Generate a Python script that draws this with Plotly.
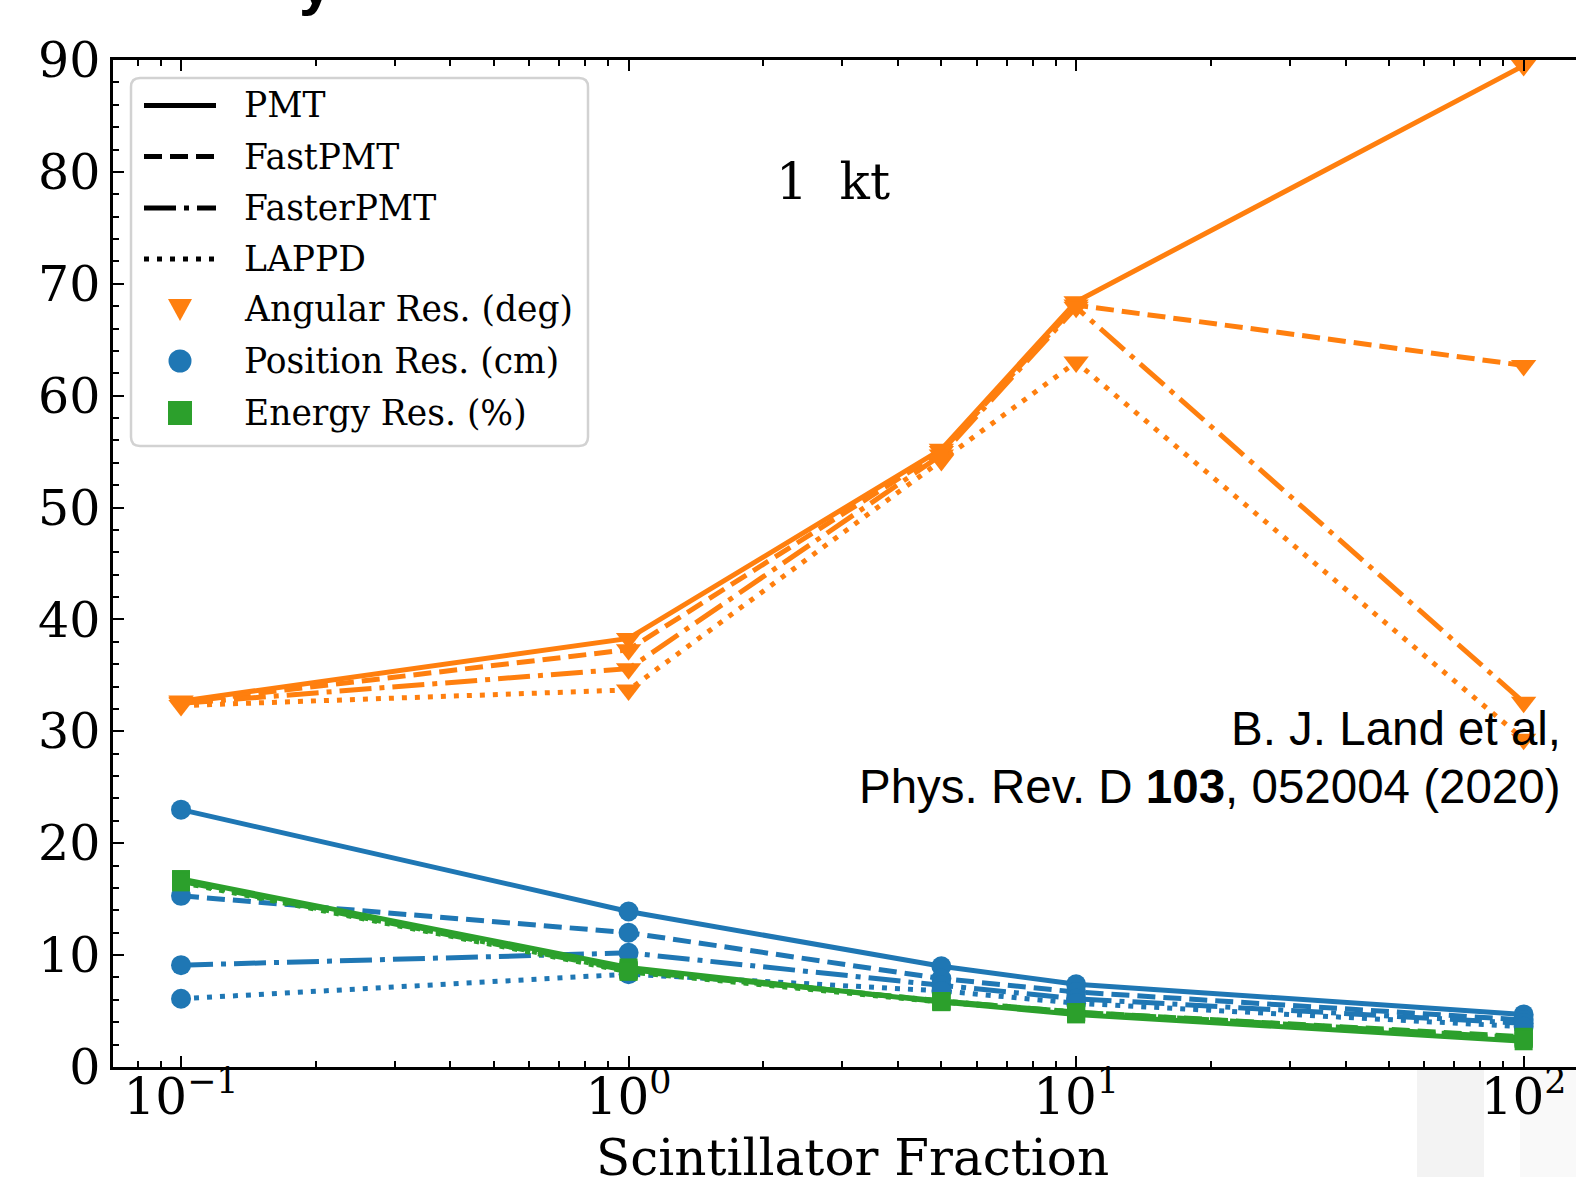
import plotly.graph_objects as go

# ---------------- data ----------------
frac = [0.1, 1, 5, 10, 100]
detectors = ["PMT", "FastPMT", "FasterPMT", "LAPPD"]

ang_pmt = [32.7, 38.3, 55.2, 68.4, 89.5]
ang_fast = [32.6, 37.3, 55.0, 68.1, 62.7]
ang_faster = [32.5, 35.6, 54.7, 67.9, 32.6]
ang_lappd = [32.3, 33.7, 54.2, 63.0, 29.3]

pos_pmt = [23.0, 13.9, 9.0, 7.4, 4.7]
pos_fast = [15.3, 12.0, 7.9, 6.7, 4.2]
pos_faster = [9.1, 10.2, 7.3, 6.1, 3.9]
pos_lappd = [6.1, 8.3, 6.8, 5.7, 3.6]

en_pmt = [16.8, 8.9, 5.8, 4.7, 2.3]
en_fast = [16.7, 8.7, 5.9, 4.9, 2.7]
en_faster = [16.6, 8.6, 5.9, 4.9, 2.6]
en_lappd = [16.5, 8.5, 5.8, 4.8, 2.5]

xtick_vals = [0.1, 1, 10, 100]
xtick_text = ["10<sup>\u22121</sup>", "10<sup>0</sup>", "10<sup>1</sup>", "10<sup>2</sup>"]
legend_labels = ["PMT", "FastPMT", "FasterPMT", "LAPPD",
                 "Angular Res. (deg)", "Position Res. (cm)", "Energy Res. (%)"]

# ---------------- style ----------------
W, H = 1576, 1177
L, T, B = 113, 60, 110
PW, PH = W - L, H - T - B
ORANGE, BLUE, GREEN = "#ff7f0e", "#1f77b4", "#2ca02c"
LW = 5
DASHES = {"PMT": "solid", "FastPMT": "18px,8px", "FasterPMT": "32px,8px,5px,8px", "LAPPD": "5px,8px"}
SERIF = "DejaVu Serif"
SANS = "Liberation Sans, Arial"


def px(X):
    return (X - L) / PW


def py(Y):
    return (T + PH - Y) / PH


fig = go.Figure()

groups = [
    ("Angular", ORANGE, "triangle-down", 22, [ang_pmt, ang_fast, ang_faster, ang_lappd]),
    ("Position", BLUE, "circle", 20, [pos_pmt, pos_fast, pos_faster, pos_lappd]),
    ("Energy", GREEN, "square", 18, [en_pmt, en_fast, en_faster, en_lappd]),
]
for gname, col, sym, msize, series in groups:
    for det, vals in zip(detectors, series):
        fig.add_trace(go.Scatter(
            x=frac, y=vals, mode="lines+markers", name=f"{gname} {det}",
            line=dict(color=col, width=LW, dash=DASHES[det]),
            marker=dict(symbol=sym, size=msize, color=col, line=dict(width=0)),
            showlegend=False, hoverinfo="skip"))

# minor tick values for log axis
minor_x = []
for dec in [0.01, 0.1, 1, 10, 100]:
    for k in range(2, 10):
        minor_x.append(dec * k)

fig.update_xaxes(
    type="log", range=[-1.152, 2.117], automargin=False,
    tickmode="array", tickvals=xtick_vals, ticktext=xtick_text,
    ticks="inside", ticklen=11, tickwidth=2, tickcolor="black",
    showline=True, linecolor="black", linewidth=2.5, mirror="allticks",
    showgrid=False, zeroline=False, ticklabelstandoff=-16,
    tickfont=dict(family=SERIF, size=50, color="black"),
    minor=dict(tickvals=minor_x, ticks="inside", ticklen=6, tickwidth=1.5, tickcolor="black", showgrid=False),
)
fig.update_yaxes(
    range=[0, 90], dtick=10, tick0=0, automargin=False,
    ticks="inside", ticklen=11, tickwidth=2, tickcolor="black",
    showline=True, linecolor="black", linewidth=2.5, mirror=False,
    showgrid=False, zeroline=False,
    tickfont=dict(family=SERIF, size=49, color="black"),
    minor=dict(dtick=2, ticks="inside", ticklen=6, tickwidth=1.5, tickcolor="black", showgrid=False),
)

shapes = []
# faint grey artefacts bottom right
shapes.append(dict(type="rect", xref="paper", yref="paper", x0=px(1417), x1=px(1484), y0=py(1068), y1=py(H),
                   fillcolor="#f3f3f3", line=dict(width=0), layer="below"))
shapes.append(dict(type="rect", xref="paper", yref="paper", x0=px(1520), x1=px(W), y0=py(1068), y1=py(H),
                   fillcolor="#f9f9f9", line=dict(width=0), layer="below"))

# legend frame (rounded)
bx0, bx1, by0, by1, r = 131, 588, 78, 446, 9
path = (f"M {px(bx0 + r)},{py(by0)} L {px(bx1 - r)},{py(by0)} Q {px(bx1)},{py(by0)} {px(bx1)},{py(by0 + r)} "
        f"L {px(bx1)},{py(by1 - r)} Q {px(bx1)},{py(by1)} {px(bx1 - r)},{py(by1)} "
        f"L {px(bx0 + r)},{py(by1)} Q {px(bx0)},{py(by1)} {px(bx0)},{py(by1 - r)} "
        f"L {px(bx0)},{py(by0 + r)} Q {px(bx0)},{py(by0)} {px(bx0 + r)},{py(by0)} Z")
shapes.append(dict(type="path", xref="paper", yref="paper", path=path,
                   fillcolor="rgba(255,255,255,0.8)", line=dict(color="#d2d2d2", width=2.5), layer="above"))

rows = [105.5, 156.5, 208, 259, 309, 361, 413]
for det, yy in zip(detectors, rows[:4]):
    shapes.append(dict(type="line", xref="paper", yref="paper", x0=px(144), x1=px(216), y0=py(yy), y1=py(yy),
                       line=dict(color="black", width=LW, dash=DASHES[det]), layer="above"))
mx = 180
# triangle-down
shapes.append(dict(type="path", xref="paper", yref="paper",
                   path=f"M {px(mx - 12)},{py(rows[4] - 10)} L {px(mx + 12)},{py(rows[4] - 10)} L {px(mx)},{py(rows[4] + 12)} Z",
                   fillcolor=ORANGE, line=dict(width=0), layer="above"))
shapes.append(dict(type="circle", xref="paper", yref="paper", x0=px(mx - 11.5), x1=px(mx + 11.5),
                   y0=py(rows[5] - 11.5), y1=py(rows[5] + 11.5), fillcolor=BLUE, line=dict(width=0), layer="above"))
shapes.append(dict(type="rect", xref="paper", yref="paper", x0=px(mx - 12), x1=px(mx + 12),
                   y0=py(rows[6] - 12), y1=py(rows[6] + 12), fillcolor=GREEN, line=dict(width=0), layer="above"))

annotations = []
for lab, yy in zip(legend_labels, rows):
    annotations.append(dict(text=lab, xref="paper", yref="paper", x=px(242), y=py(yy), xanchor="left",
                            yanchor="middle", showarrow=False, font=dict(family=SERIF, size=34.5, color="black")))

annotations.append(dict(text="1  kt", xref="paper", yref="paper", x=px(833), y=py(182), xanchor="center",
                        yanchor="middle", showarrow=False, font=dict(family=SERIF, size=50, color="black")))
annotations.append(dict(text="B. J. Land et al,", xref="paper", yref="paper", x=px(1563), y=py(728),
                        xanchor="right", yanchor="middle", showarrow=False,
                        font=dict(family=SANS, size=47.5, color="black")))
annotations.append(dict(text="Phys. Rev. D <b>103</b>, 052004 (2020)", xref="paper", yref="paper", x=px(1563),
                        y=py(786), xanchor="right", yanchor="middle", showarrow=False,
                        font=dict(family=SANS, size=47.5, color="black")))
annotations.append(dict(text="Scintillator Fraction", xref="paper", yref="paper", x=px(852), y=py(1158),
                        xanchor="center", yanchor="middle", showarrow=False,
                        font=dict(family=SERIF, size=50, color="black")))
annotations.append(dict(text="<b>y</b>", xref="paper", yref="paper", x=px(316), y=py(19),
                        xanchor="center", yanchor="bottom", showarrow=False,
                        font=dict(family=SANS, size=60, color="black")))

fig.update_layout(
    width=W, height=H,
    margin=dict(l=L, r=0, t=T, b=B, pad=0),
    paper_bgcolor="white", plot_bgcolor="white",
    showlegend=False,
    shapes=shapes, annotations=annotations,
)

fig.write_html("out.html", config={"displayModeBar": False},
               post_script="document.body.style.margin='0';document.body.style.overflow='hidden';")
